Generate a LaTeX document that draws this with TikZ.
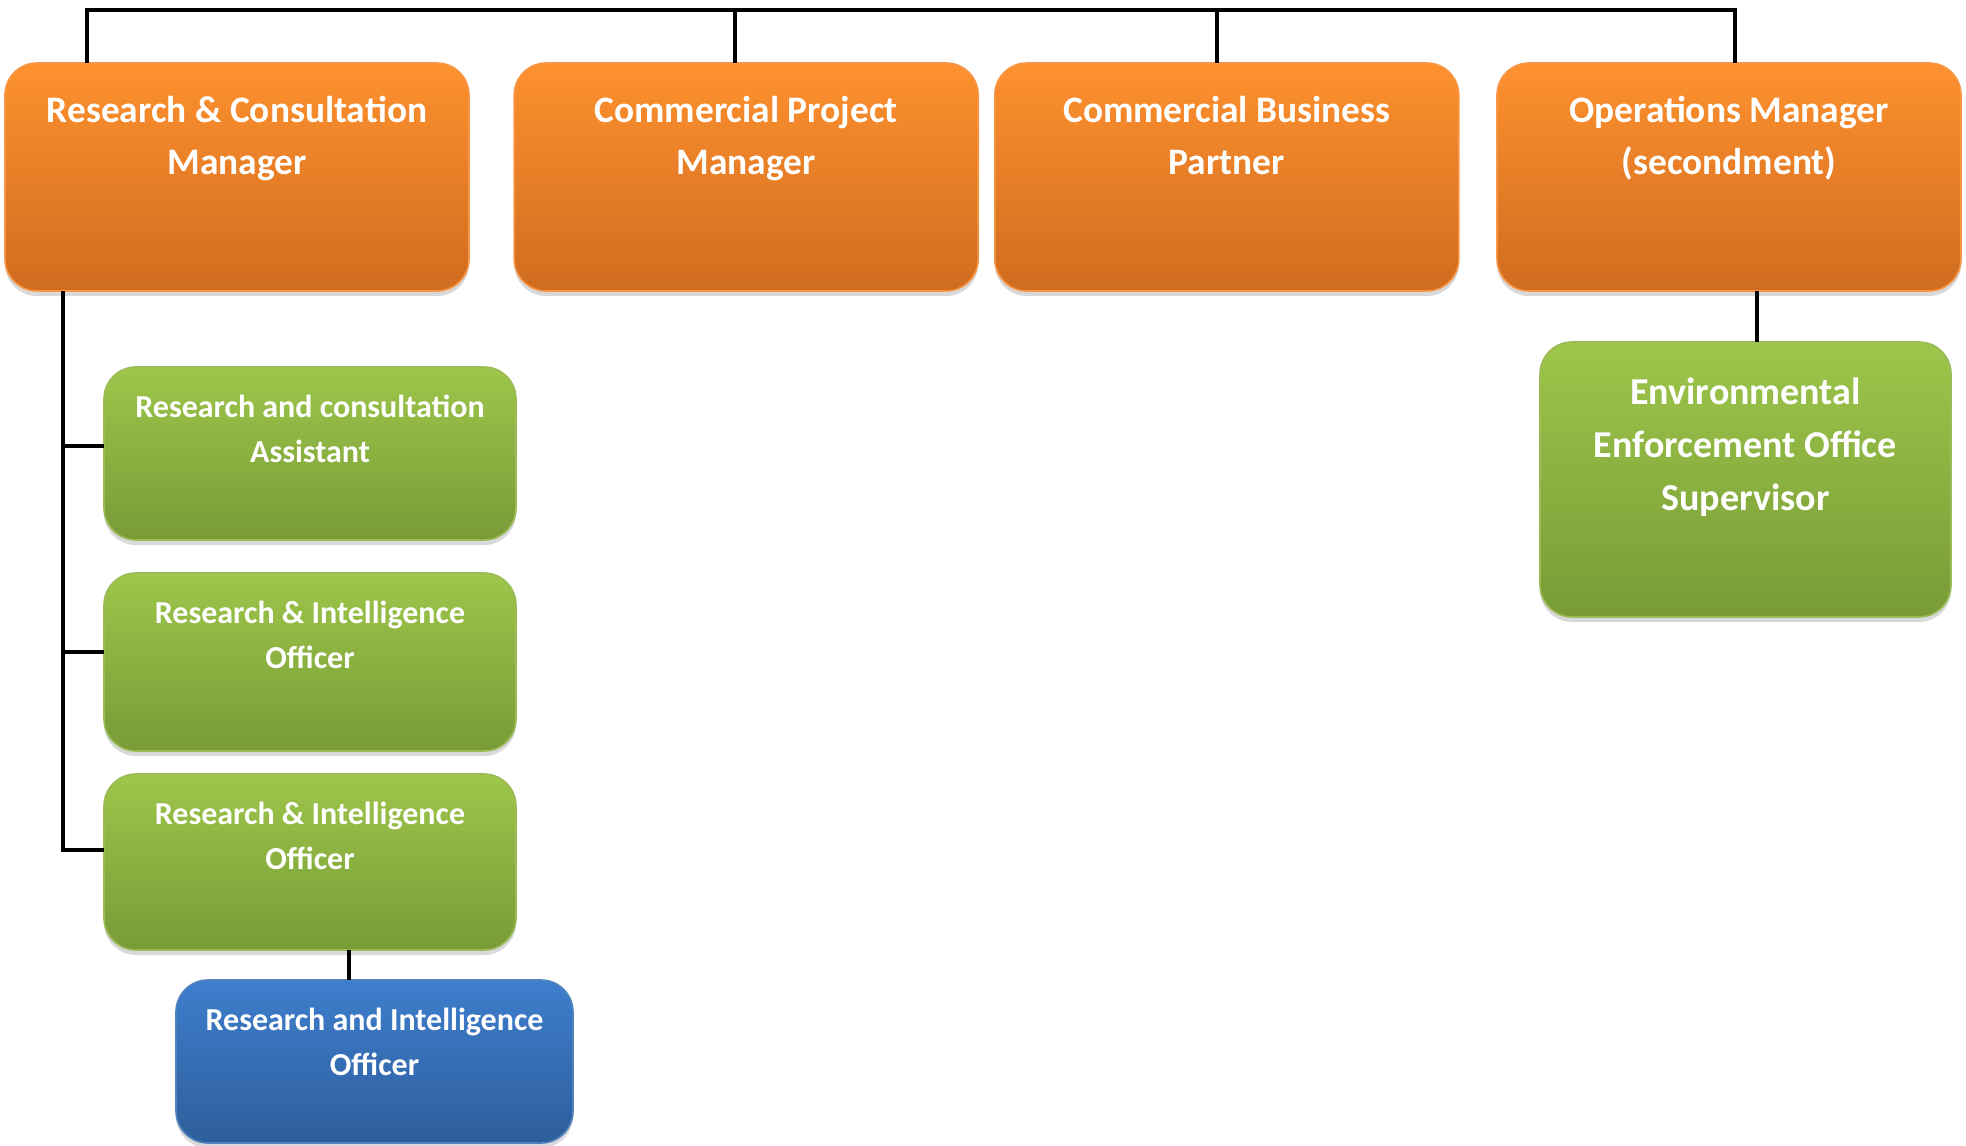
\documentclass[tikz,border=0pt]{standalone}
\usepackage{fontspec}
\setmainfont{Carlito}
\usetikzlibrary{positioning,shadows}

\definecolor{orgtop}{HTML}{FE912F}
\definecolor{orgbot}{HTML}{D06C1F}
\definecolor{orgedge}{HTML}{F79646}
\definecolor{grntop}{HTML}{9DC64A}
\definecolor{grnbot}{HTML}{789B37}
\definecolor{grnedge}{HTML}{9BBB59}
\definecolor{blutop}{HTML}{3E7ECD}
\definecolor{blubot}{HTML}{2E5E9C}
\definecolor{bluedge}{HTML}{4F81BD}

% width, height, first baseline, text
\newcommand{\roletext}[4]{\parbox[c][#2][t]{#1}{\centering\rule{0pt}{#3}#4\par}}

\begin{document}
\begin{tikzpicture}[x=0.5pt,y=-0.5pt]
\tikzstyle{role}=[rectangle, rounded corners=16pt, inner sep=0pt, outer sep=0pt, text=white, line width=0.8pt, drop shadow={shadow xshift=0pt, shadow yshift=-2.5pt, opacity=0.3}]
\tikzstyle{mgr}=[role, top color=orgtop, bottom color=orgbot, draw=orgedge, font=\bfseries\fontsize{18.7}{26}\selectfont]
\tikzstyle{staff}=[role, top color=grntop, bottom color=grnbot, draw=grnedge, font=\bfseries\fontsize{16}{22.5}\selectfont]
\tikzstyle{sup}=[staff, font=\bfseries\fontsize{19}{26.5}\selectfont]
\tikzstyle{junior}=[role, top color=blutop, bottom color=blubot, draw=bluedge, font=\bfseries\fontsize{16}{22.5}\selectfont]
\tikzstyle{link}=[line width=2pt, black]

\useasboundingbox (0,0) rectangle (1966,1146);

%% Managers
  \node[mgr] (rcm) at (237,177) {\roletext{232pt}{114pt}{29.5pt}{Research \& Consultation\\Manager}};
  \node[mgr] (cpm) [right=22.6pt of rcm] {\roletext{232pt}{114pt}{29.5pt}{Commercial Project\\Manager}};
  \node[mgr] (cbp) [right=8.3pt of cpm] {\roletext{232pt}{114pt}{29.5pt}{Commercial Business\\Partner}};
  \node[mgr] (opm) [right=19.1pt of cbp] {\roletext{232pt}{114pt}{29.5pt}{Operations Manager\\(secondment)}};

%% Research team
  \node[staff] (rca) at (310,453.5) {\roletext{206pt}{86.5pt}{25pt}{Research and consultation\\Assistant}};
  \node[staff] (rio1) [below=16.5pt of rca] {\roletext{206pt}{89pt}{25pt}{Research \& Intelligence\\Officer}};
  \node[staff] (rio2) [below=11.5pt of rio1] {\roletext{206pt}{88pt}{25pt}{Research \& Intelligence\\Officer}};
  \node[junior] (rio3) at (374.5,1061.5) {\roletext{198.5pt}{81.5pt}{25pt}{Research and Intelligence\\Officer}};

%% Operations
  \node[sup] (eeo) at (1745.5,479.5) {\roletext{205.5pt}{137.5pt}{31pt}{Environmental\\Enforcement Office\\Supervisor}};

  % top bar
  \coordinate (barL) at (87,10);
  \coordinate (barR) at (1735,10);
  \coordinate (cpmtap) at (735,10);
  \coordinate (cbptap) at (1217,10);
  \draw[link] (barL |- rcm.north) -- (barL) -- (barR) -- (barR |- opm.north);
  \draw[link] (cpmtap) -- (cpmtap |- cpm.north);
  \draw[link] (cbptap) -- (cbptap |- cbp.north);

  % research spine
  \coordinate (spine) at (63,291);
  \draw[link] (spine |- rcm.south) -- ([yshift=6pt]rio2.west -| spine) -- ([yshift=6pt]rio2.west);
  \draw[link] ([yshift=4pt]rca.west -| spine) -- ([yshift=4pt]rca.west);
  \draw[link] ([yshift=5pt]rio1.west -| spine) -- ([yshift=5pt]rio1.west);
  \coordinate (riotap) at (349,950);
  \draw[link] (riotap |- rio2.south) -- (riotap |- rio3.north);

  % operations
  \coordinate (opmtap) at (1757,291);
  \draw[link] (opmtap |- opm.south) -- (opmtap |- eeo.north);
\end{tikzpicture}
\end{document}
